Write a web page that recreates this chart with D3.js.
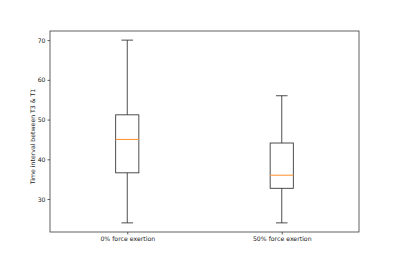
<!DOCTYPE html>
<html><head><meta charset="utf-8">
<script src="https://cdn.jsdelivr.net/npm/d3@7"></script>
<style>body{margin:0;background:#fff}svg{display:block}text{font-family:"DejaVu Sans",sans-serif;fill:#222}</style>
</head><body><svg id="c" width="399" height="266"></svg>
<script>
const categories = ["0% force exertion", "50% force exertion"];
const whiskerLow = [24, 24];
const q1 = [36.6, 32.7];
const median = [45, 36];
const q3 = [51.2, 44.1];
const whiskerHigh = [70, 56];
const yTicks = [30, 40, 50, 60, 70];
const yLabel = "Time interval between T3 & T1";

const svg = d3.select("#c");
const L = 50, R = 359, T = 31, B = 232;
const x = d3.scaleLinear().domain([0.5, 2.5]).range([L, R]);
const y = d3.scaleLinear().domain([21.7, 72.3]).range([B, T]);
const bw = x(1.075) - x(1);
const lineCol = "#3a3a3a";

const yAxis = svg.append("g").attr("transform", `translate(${L},0)`)
  .call(d3.axisLeft(y).tickValues(yTicks).tickSize(2.5).tickPadding(2).tickFormat(d3.format("d")));
const xAxis = svg.append("g").attr("transform", `translate(0,${B})`)
  .call(d3.axisBottom(x).tickValues([1, 2]).tickSize(2.5).tickPadding(2).tickFormat(d => categories[d - 1]));
[yAxis, xAxis].forEach(a => {
  a.select(".domain").remove();
  a.selectAll("line").attr("stroke", lineCol).attr("stroke-width", 0.8);
  a.selectAll("text").attr("font-size", 6.2).attr("fill", "#222");
});

categories.forEach((c, i) => {
  const cx = x(i + 1);
  const g = svg.append("g").attr("fill", "none").attr("stroke", lineCol).attr("stroke-width", 0.9);
  g.append("line").attr("x1", cx).attr("x2", cx).attr("y1", y(whiskerHigh[i])).attr("y2", y(q3[i]));
  g.append("line").attr("x1", cx).attr("x2", cx).attr("y1", y(q1[i])).attr("y2", y(whiskerLow[i]));
  g.append("line").attr("x1", cx - bw / 2).attr("x2", cx + bw / 2).attr("y1", y(whiskerHigh[i])).attr("y2", y(whiskerHigh[i]));
  g.append("line").attr("x1", cx - bw / 2).attr("x2", cx + bw / 2).attr("y1", y(whiskerLow[i])).attr("y2", y(whiskerLow[i]));
  g.append("rect").attr("x", cx - bw).attr("width", 2 * bw).attr("y", y(q3[i])).attr("height", y(q1[i]) - y(q3[i]));
});
categories.forEach((c, i) => {
  const cx = x(i + 1);
  svg.append("line").attr("x1", cx - bw).attr("x2", cx + bw).attr("y1", y(median[i])).attr("y2", y(median[i]))
    .attr("stroke", "#ff9a3c").attr("stroke-width", 1.1);
});

svg.append("rect").attr("x", L).attr("y", T).attr("width", R - L).attr("height", B - T)
  .attr("fill", "none").attr("stroke", lineCol).attr("stroke-width", 0.8);

svg.append("text").attr("transform", `translate(33,${(T + B) / 2 + 5}) rotate(-90)`)
  .attr("text-anchor", "middle").attr("dy", "0.35em").attr("font-size", 6.2).attr("fill", "#222").text(yLabel);
</script></body></html>
